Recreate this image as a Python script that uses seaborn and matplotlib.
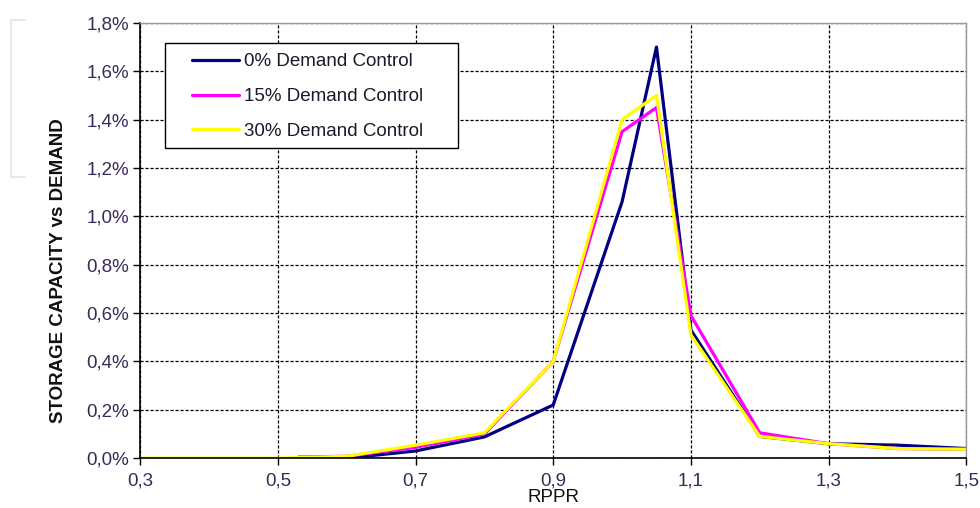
import matplotlib
matplotlib.use("Agg")
import pandas as pd
import matplotlib.pyplot as plt
import seaborn as sns
from matplotlib.ticker import FuncFormatter, MultipleLocator
from matplotlib.lines import Line2D
from matplotlib.patches import Rectangle

# RPPR vs storage capacity (% of demand)
x_dc0 = [0.6, 0.7, 0.8, 0.9, 1.0, 1.05, 1.1, 1.2, 1.3, 1.4, 1.5]
y_dc0 = [0.0, 0.03, 0.088, 0.22, 1.06, 1.70, 0.53, 0.09, 0.06, 0.054, 0.04]

x_dc15 = [0.53, 0.6, 0.7, 0.8, 0.9, 1.0, 1.05, 1.1, 1.2, 1.3, 1.4, 1.5]
y_dc15 = [0.005, 0.008, 0.045, 0.10, 0.40, 1.35, 1.45, 0.59, 0.105, 0.06, 0.04, 0.037]

x_dc30 = [0.3, 0.4, 0.5, 0.6, 0.7, 0.8, 0.9, 1.0, 1.05, 1.1, 1.2, 1.3, 1.4, 1.5]
y_dc30 = [0.0, 0.0, 0.0, 0.008, 0.054, 0.105, 0.40, 1.40, 1.50, 0.51, 0.09, 0.06, 0.04, 0.037]

x_ticks = [0.3, 0.5, 0.7, 0.9, 1.1, 1.3, 1.5]

labels = ["0% Demand Control", "15% Demand Control", "30% Demand Control"]
colors = ["#000080", "#FF00FF", "#FFFF00"]

frames = []
for lab, xs, ys in zip(labels, [x_dc0, x_dc15, x_dc30], [y_dc0, y_dc15, y_dc30]):
    frames.append(pd.DataFrame({"RPPR": xs, "value": ys, "series": lab}))
df = pd.concat(frames, ignore_index=True)

sns.set_style("white")
plt.rcParams["font.family"] = ["Liberation Sans", "DejaVu Sans"]

W, H = 980, 508
fig = plt.figure(figsize=(W / 100, H / 100), dpi=100)
ax = fig.add_axes([0.143, 0.098, 0.843, 0.857])

sns.lineplot(data=df, x="RPPR", y="value", hue="series", hue_order=labels,
             palette=colors, linewidth=2.3, sort=False, estimator=None, ax=ax)

ax.set_xlim(0.3, 1.5)
ax.set_ylim(0, 1.8)
ax.set_xticks(x_ticks)
ax.yaxis.set_major_locator(MultipleLocator(0.2))
ax.xaxis.set_major_formatter(FuncFormatter(lambda v, p: f"{v:.1f}".replace(".", ",")))
ax.yaxis.set_major_formatter(FuncFormatter(lambda v, p: f"{v:.1f}%".replace(".", ",")))

ax.grid(True, color="black", linestyle=(0, (2.5, 1.5)), linewidth=0.9)
ax.set_axisbelow(True)
tick_color = "#3a2a5a"
ax.tick_params(axis="both", which="major", direction="out", length=5, width=1,
               color="black", labelsize=13.5, labelcolor=tick_color,
               left=True, bottom=True)
ax.tick_params(axis="y", pad=3)
ax.tick_params(axis="x", pad=5)

for side in ["left", "bottom"]:
    ax.spines[side].set_color("black")
    ax.spines[side].set_linewidth(1.2)
for side in ["top", "right"]:
    ax.spines[side].set_color("#999999")
    ax.spines[side].set_linewidth(1.0)

ax.set_xlabel("RPPR", fontsize=13.5, labelpad=0, color="#111111")
ax.set_ylabel("STORAGE CAPACITY vs DEMAND", fontsize=13.5, fontweight="bold",
              color="#111111")
ax.yaxis.set_label_coords(-0.089, 0.432)

# legend: frame drawn separately so the padding matches the source
ax.add_patch(Rectangle((165 / W, 1 - 148 / H), 293 / W, 105 / H,
                       transform=fig.transFigure, facecolor="white",
                       edgecolor="black", linewidth=1.0, zorder=4, clip_on=False))
leg = ax.legend(loc="upper left", bbox_to_anchor=(192 / W, 1 - 53 / H),
                bbox_transform=fig.transFigure, fontsize=13.5, frameon=False,
                handlelength=2.5, handletextpad=0.27, borderpad=0,
                labelspacing=0.95, borderaxespad=0)
leg.set_zorder(6)
for txt in leg.get_texts():
    txt.set_color("#1a1a2a")

# faint leftover frame at the left edge of the source image
fig.lines.append(Line2D([0.025, 0.011, 0.011, 0.025], [0.961, 0.961, 0.652, 0.652],
                        transform=fig.transFigure, color="#e4e4e4", linewidth=1.2))

fig.savefig("out.png", dpi=100)
